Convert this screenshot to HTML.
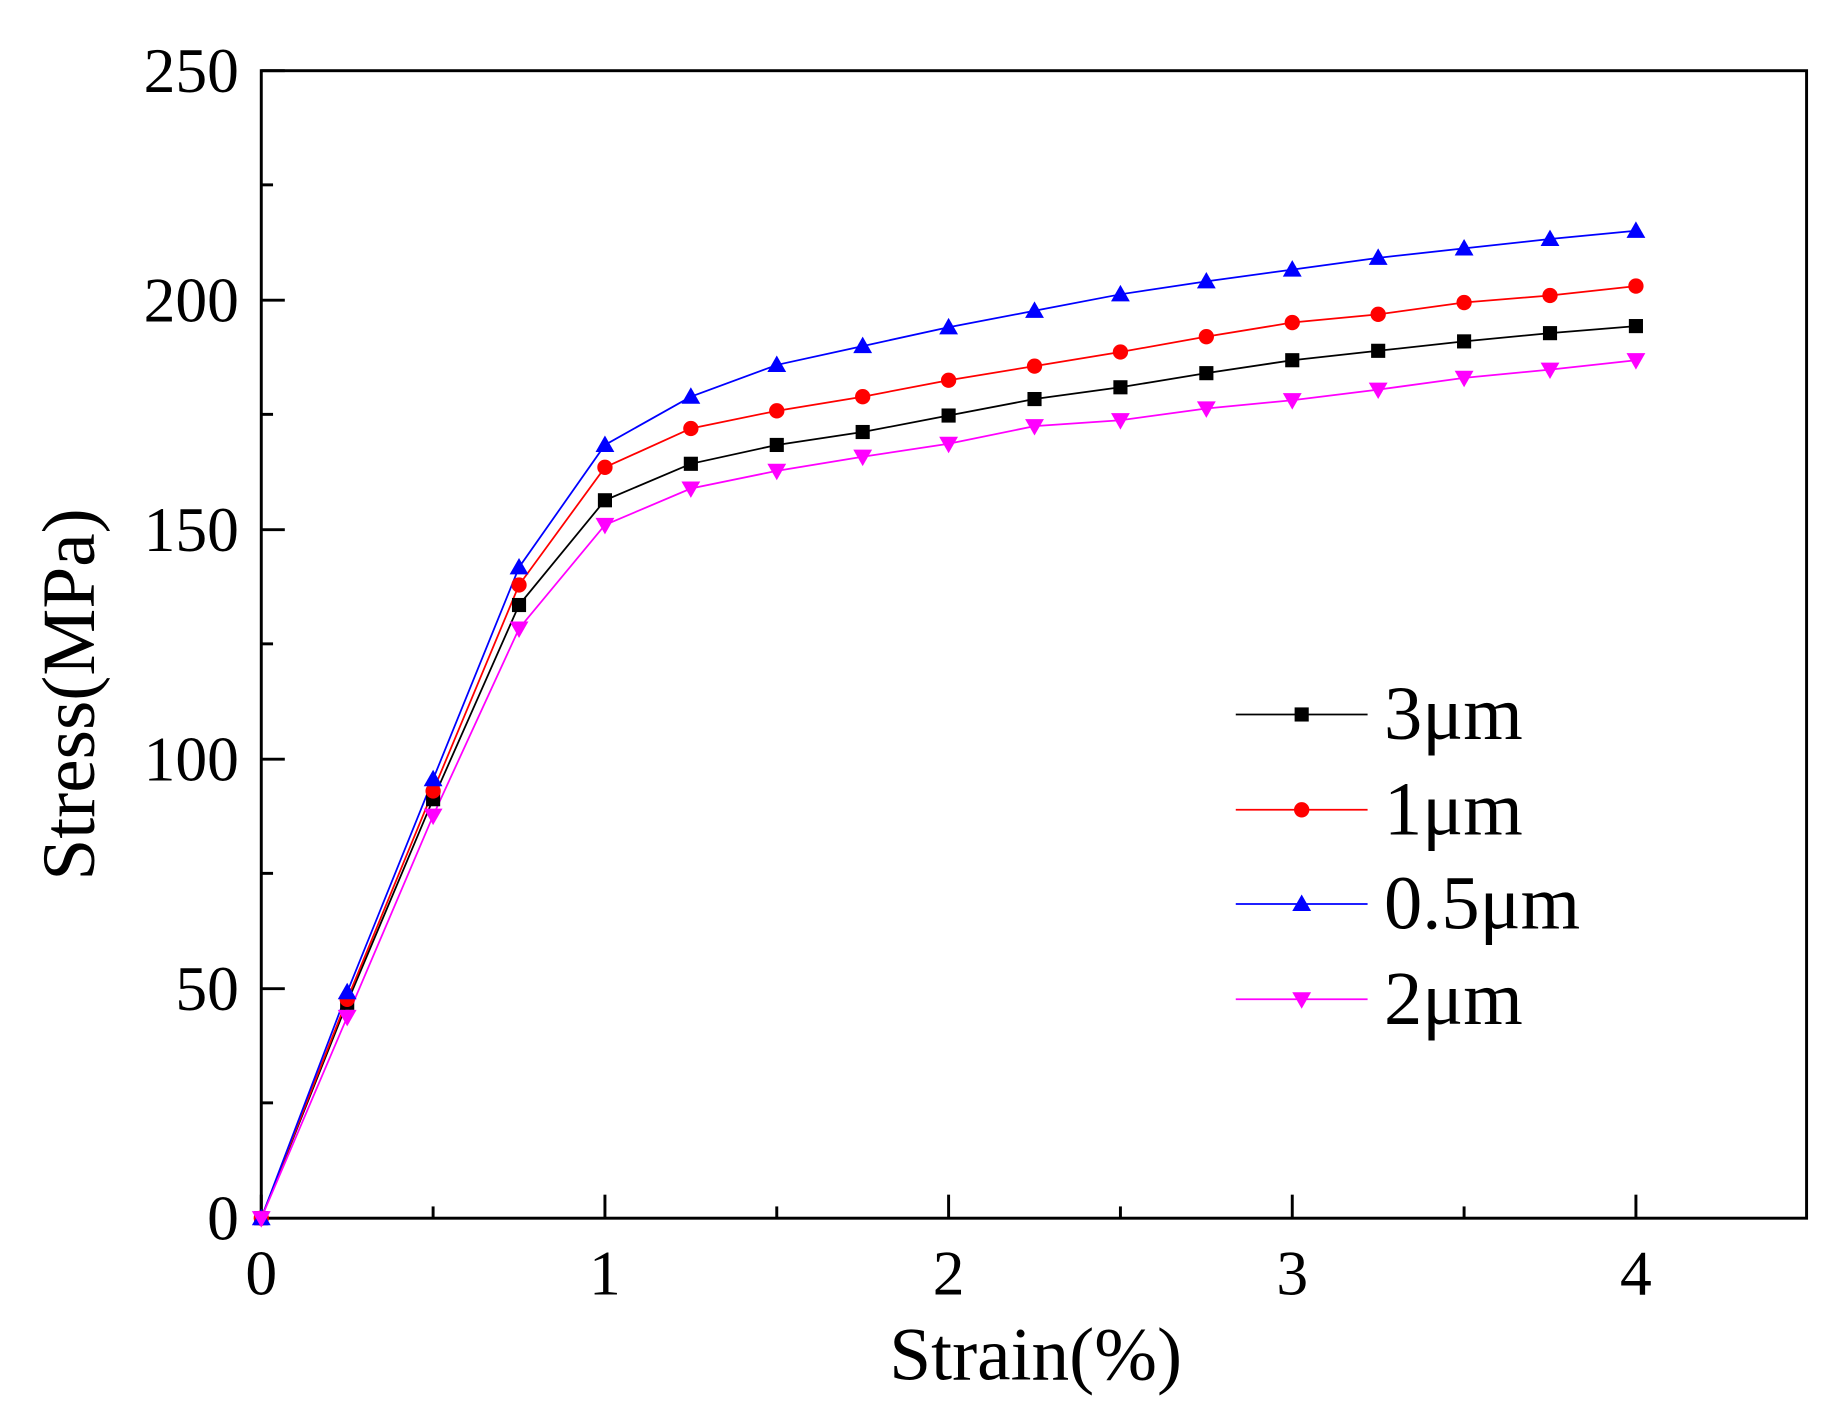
<!DOCTYPE html><html><head><style>body{margin:0;background:#fff}svg{display:block}text{font-family:"Liberation Serif",serif}</style></head><body>
<svg width="1836" height="1416" viewBox="0 0 1560 1203" xmlns="http://www.w3.org/2000/svg">
<rect x="222" y="60" width="1313" height="975" fill="none" stroke="#000" stroke-width="2.5"/>
<g stroke="#000" stroke-width="2.5">
<line x1="222" y1="1035" x2="222" y2="1015"/><line x1="368" y1="1035" x2="368" y2="1025"/><line x1="514" y1="1035" x2="514" y2="1015"/><line x1="660" y1="1035" x2="660" y2="1025"/><line x1="806" y1="1035" x2="806" y2="1015"/><line x1="952" y1="1035" x2="952" y2="1025"/><line x1="1098" y1="1035" x2="1098" y2="1015"/><line x1="1244" y1="1035" x2="1244" y2="1025"/><line x1="1390" y1="1035" x2="1390" y2="1015"/>
<line x1="222" y1="840" x2="242" y2="840"/><line x1="222" y1="645" x2="242" y2="645"/><line x1="222" y1="450" x2="242" y2="450"/><line x1="222" y1="255" x2="242" y2="255"/><line x1="222" y1="60" x2="242" y2="60"/>
<line x1="222" y1="937" x2="232" y2="937"/><line x1="222" y1="742" x2="232" y2="742"/><line x1="222" y1="547" x2="232" y2="547"/><line x1="222" y1="352" x2="232" y2="352"/><line x1="222" y1="157" x2="232" y2="157"/>
</g>
<g font-size="54" text-anchor="end">
<text x="203" y="1053">0</text><text x="203" y="858">50</text><text x="203" y="663">100</text><text x="203" y="468">150</text><text x="203" y="273">200</text><text x="203" y="78">250</text></g>
<g font-size="54" text-anchor="middle">
<text x="222" y="1100">0</text><text x="514" y="1100">1</text><text x="806" y="1100">2</text><text x="1098" y="1100">3</text><text x="1390" y="1100">4</text></g>
<text x="880" y="1172" font-size="64" text-anchor="middle">Strain(%)</text>
<text transform="translate(80,590) rotate(-90)" font-size="64" text-anchor="middle">Stress(MPa)</text>
<defs>
<rect id="sq" x="-6" y="-6" width="12" height="12" fill="#000"/>
<circle id="ci" r="6.5" fill="#f00"/>
<polygon id="tu" points="0,-8 8,6 -8,6" fill="#00f"/>
<polygon id="td" points="0,8 8,-6 -8,-6" fill="#f0f"/>
</defs>
<g fill="none" stroke-width="1.5">
<polyline stroke="#000" points="222,1035 295,852 368,679 441,514 514,425 587,394 660,378 733,367 806,353 879,339 952,329 1025,317 1098,306 1171,298 1244,290 1317,283 1390,277"/>
<polyline stroke="#f00" points="222,1035 295,849 368,672 441,497 514,397 587,364 660,349 733,337 806,323 879,311 952,299 1025,286 1098,274 1171,267 1244,257 1317,251 1390,243"/>
<polyline stroke="#00f" points="222,1035 295,843 368,662 441,482 514,378 587,337 660,310 733,294 806,278 879,264 952,250 1025,239 1098,229 1171,219 1244,211 1317,203 1390,196"/>
<polyline stroke="#f0f" points="222,1035 295,864 368,693 441,534 514,446 587,415 660,400 733,388 806,377 879,362 952,357 1025,347 1098,340 1171,331 1244,321 1317,314 1390,306"/>
<line stroke="#000" x1="1050" y1="607" x2="1162" y2="607"/>
<line stroke="#f00" x1="1050" y1="688" x2="1162" y2="688"/>
<line stroke="#00f" x1="1050" y1="768" x2="1162" y2="768"/>
<line stroke="#f0f" x1="1050" y1="849" x2="1162" y2="849"/>
</g>
<g>
<use href="#sq" x="222" y="1035"/><use href="#sq" x="295" y="852"/><use href="#sq" x="368" y="679"/><use href="#sq" x="441" y="514"/><use href="#sq" x="514" y="425"/><use href="#sq" x="587" y="394"/><use href="#sq" x="660" y="378"/><use href="#sq" x="733" y="367"/><use href="#sq" x="806" y="353"/><use href="#sq" x="879" y="339"/><use href="#sq" x="952" y="329"/><use href="#sq" x="1025" y="317"/><use href="#sq" x="1098" y="306"/><use href="#sq" x="1171" y="298"/><use href="#sq" x="1244" y="290"/><use href="#sq" x="1317" y="283"/><use href="#sq" x="1390" y="277"/>
<use href="#ci" x="222" y="1035"/><use href="#ci" x="295" y="849"/><use href="#ci" x="368" y="672"/><use href="#ci" x="441" y="497"/><use href="#ci" x="514" y="397"/><use href="#ci" x="587" y="364"/><use href="#ci" x="660" y="349"/><use href="#ci" x="733" y="337"/><use href="#ci" x="806" y="323"/><use href="#ci" x="879" y="311"/><use href="#ci" x="952" y="299"/><use href="#ci" x="1025" y="286"/><use href="#ci" x="1098" y="274"/><use href="#ci" x="1171" y="267"/><use href="#ci" x="1244" y="257"/><use href="#ci" x="1317" y="251"/><use href="#ci" x="1390" y="243"/>
<use href="#tu" x="222" y="1035"/><use href="#tu" x="295" y="843"/><use href="#tu" x="368" y="662"/><use href="#tu" x="441" y="482"/><use href="#tu" x="514" y="378"/><use href="#tu" x="587" y="337"/><use href="#tu" x="660" y="310"/><use href="#tu" x="733" y="294"/><use href="#tu" x="806" y="278"/><use href="#tu" x="879" y="264"/><use href="#tu" x="952" y="250"/><use href="#tu" x="1025" y="239"/><use href="#tu" x="1098" y="229"/><use href="#tu" x="1171" y="219"/><use href="#tu" x="1244" y="211"/><use href="#tu" x="1317" y="203"/><use href="#tu" x="1390" y="196"/>
<use href="#td" x="222" y="1035"/><use href="#td" x="295" y="864"/><use href="#td" x="368" y="693"/><use href="#td" x="441" y="534"/><use href="#td" x="514" y="446"/><use href="#td" x="587" y="415"/><use href="#td" x="660" y="400"/><use href="#td" x="733" y="388"/><use href="#td" x="806" y="377"/><use href="#td" x="879" y="362"/><use href="#td" x="952" y="357"/><use href="#td" x="1025" y="347"/><use href="#td" x="1098" y="340"/><use href="#td" x="1171" y="331"/><use href="#td" x="1244" y="321"/><use href="#td" x="1317" y="314"/><use href="#td" x="1390" y="306"/>
<use href="#sq" x="1106" y="607"/><use href="#ci" x="1106" y="688"/><use href="#tu" x="1106" y="768"/><use href="#td" x="1106" y="849"/>
</g>
<g font-size="65">
<text x="1176" y="628">3μm</text><text x="1176" y="709">1μm</text><text x="1176" y="789">0.5μm</text><text x="1176" y="870">2μm</text></g>
</svg></body></html>
